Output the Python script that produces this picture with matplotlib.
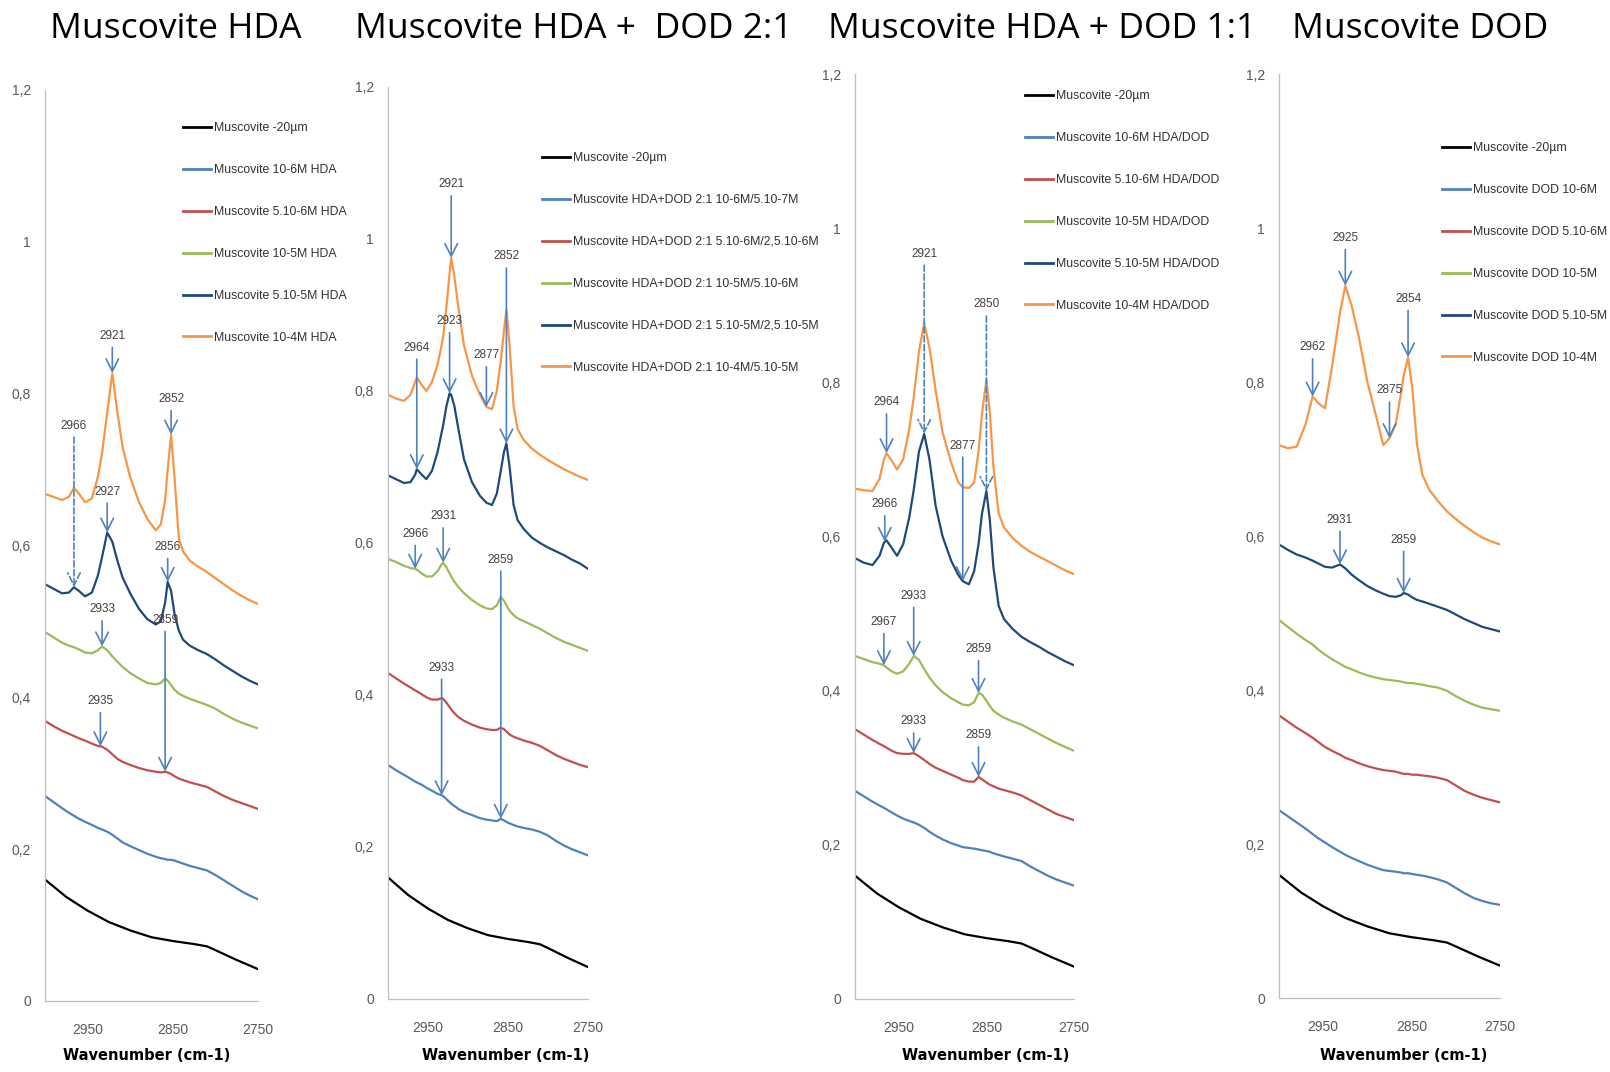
import numpy as np
import matplotlib
matplotlib.use("Agg")
import matplotlib.pyplot as plt
from matplotlib.lines import Line2D

plt.rcParams['font.family'] = ['Liberation Sans', 'DejaVu Sans']

# ---------------- data ----------------
# reference muscovite (same in every panel)
base_wn = [3000, 2975, 2950, 2925, 2900, 2875, 2850, 2825, 2810, 2800, 2775, 2750]
base_abs = [0.160, 0.137, 0.119, 0.104, 0.093, 0.084, 0.079, 0.075, 0.072, 0.067, 0.054, 0.042]

# panel 1 : HDA
wn1 = [3000, 2990, 2980, 2972, 2966, 2960, 2953, 2945, 2938, 2933, 2927, 2921, 2915, 2909, 2900,
       2890, 2880, 2870, 2864, 2859, 2856, 2852, 2848, 2843, 2838, 2830, 2820, 2810, 2800, 2790,
       2780, 2770, 2760, 2750]
hda_6 = [0.270, 0.262, 0.254, 0.248, 0.244, 0.240, 0.236, 0.232, 0.228, 0.226, 0.223, 0.219, 0.214,
         0.209, 0.204, 0.199, 0.194, 0.190, 0.188, 0.187, 0.186, 0.186, 0.185, 0.183, 0.181, 0.178,
         0.175, 0.172, 0.166, 0.159, 0.152, 0.145, 0.139, 0.134]
hda_56 = [0.369, 0.362, 0.356, 0.352, 0.349, 0.346, 0.343, 0.339, 0.336, 0.335, 0.331, 0.325, 0.319,
          0.315, 0.311, 0.307, 0.304, 0.302, 0.301, 0.302, 0.301, 0.299, 0.296, 0.293, 0.291, 0.288,
          0.285, 0.282, 0.276, 0.270, 0.265, 0.261, 0.257, 0.253]
hda_5 = [0.486, 0.479, 0.472, 0.468, 0.466, 0.463, 0.459, 0.458, 0.462, 0.467, 0.462, 0.454, 0.447,
         0.440, 0.432, 0.425, 0.419, 0.417, 0.419, 0.425, 0.422, 0.416, 0.410, 0.405, 0.402, 0.398,
         0.394, 0.390, 0.385, 0.378, 0.372, 0.367, 0.363, 0.359]
hda_55 = [0.549, 0.543, 0.537, 0.538, 0.545, 0.540, 0.533, 0.538, 0.560, 0.585, 0.617, 0.605, 0.580,
          0.558, 0.537, 0.517, 0.503, 0.496, 0.500, 0.525, 0.552, 0.540, 0.510, 0.488, 0.476, 0.468,
          0.462, 0.457, 0.450, 0.442, 0.435, 0.428, 0.422, 0.417]
hda_4 = [0.668, 0.664, 0.660, 0.664, 0.676, 0.668, 0.657, 0.662, 0.690, 0.722, 0.775, 0.827, 0.775,
         0.730, 0.690, 0.658, 0.635, 0.620, 0.628, 0.660, 0.700, 0.746, 0.690, 0.610, 0.592, 0.580,
         0.572, 0.565, 0.557, 0.549, 0.541, 0.534, 0.528, 0.523]

# panel 2 : HDA + DOD 2:1
wn2 = [3000, 2990, 2980, 2972, 2966, 2964, 2958, 2952, 2945, 2938, 2933, 2931, 2927, 2923, 2921,
       2917, 2912, 2905, 2895, 2885, 2877, 2870, 2864, 2859, 2855, 2852, 2848, 2843, 2838, 2830,
       2820, 2810, 2800, 2790, 2780, 2770, 2760, 2750]
mix21_6 = [0.308, 0.301, 0.295, 0.290, 0.286, 0.285, 0.282, 0.278, 0.274, 0.270, 0.268, 0.267, 0.263,
           0.259, 0.257, 0.254, 0.250, 0.246, 0.242, 0.238, 0.236, 0.235, 0.234, 0.237, 0.235, 0.233,
           0.231, 0.229, 0.227, 0.225, 0.223, 0.220, 0.215, 0.208, 0.202, 0.197, 0.193, 0.189]
mix21_56 = [0.429, 0.422, 0.415, 0.410, 0.406, 0.405, 0.401, 0.397, 0.394, 0.394, 0.396, 0.395, 0.390,
            0.384, 0.381, 0.376, 0.371, 0.366, 0.361, 0.357, 0.355, 0.354, 0.354, 0.357, 0.355, 0.352,
            0.348, 0.345, 0.343, 0.340, 0.337, 0.333, 0.327, 0.321, 0.316, 0.312, 0.308, 0.305]
mix21_5 = [0.579, 0.575, 0.570, 0.567, 0.566, 0.565, 0.560, 0.556, 0.556, 0.563, 0.572, 0.574, 0.568,
           0.560, 0.556, 0.549, 0.542, 0.534, 0.525, 0.518, 0.514, 0.513, 0.518, 0.529, 0.524, 0.518,
           0.511, 0.505, 0.501, 0.497, 0.492, 0.487, 0.481, 0.475, 0.470, 0.466, 0.462, 0.458]
mix21_55 = [0.689, 0.684, 0.679, 0.680, 0.690, 0.697, 0.690, 0.684, 0.695, 0.720, 0.745, 0.755, 0.780,
            0.797, 0.795, 0.780, 0.750, 0.710, 0.680, 0.662, 0.653, 0.650, 0.665, 0.695, 0.720, 0.731,
            0.700, 0.650, 0.630, 0.618, 0.607, 0.600, 0.594, 0.589, 0.584, 0.578, 0.573, 0.566]
mix21_4 = [0.795, 0.790, 0.787, 0.795, 0.812, 0.818, 0.808, 0.800, 0.812, 0.835, 0.860, 0.872, 0.910,
           0.955, 0.975, 0.950, 0.910, 0.860, 0.820, 0.795, 0.779, 0.776, 0.800, 0.840, 0.880, 0.907,
           0.860, 0.780, 0.750, 0.735, 0.724, 0.716, 0.709, 0.703, 0.697, 0.692, 0.687, 0.683]

# panel 3 : HDA + DOD 1:1
wn3 = [3000, 2990, 2980, 2972, 2967, 2964, 2958, 2952, 2945, 2938, 2933, 2927, 2921, 2915, 2908,
       2900, 2890, 2882, 2877, 2870, 2864, 2859, 2855, 2850, 2846, 2842, 2836, 2830, 2820, 2810,
       2800, 2790, 2780, 2770, 2760, 2750]
mix11_6 = [0.270, 0.263, 0.256, 0.251, 0.248, 0.246, 0.242, 0.238, 0.234, 0.231, 0.229, 0.226, 0.222,
           0.217, 0.212, 0.207, 0.202, 0.199, 0.197, 0.196, 0.195, 0.194, 0.193, 0.192, 0.191, 0.189,
           0.187, 0.185, 0.182, 0.179, 0.172, 0.166, 0.160, 0.155, 0.151, 0.147]
mix11_56 = [0.350, 0.343, 0.336, 0.331, 0.328, 0.326, 0.322, 0.319, 0.318, 0.318, 0.319, 0.315, 0.310,
            0.305, 0.300, 0.296, 0.291, 0.287, 0.284, 0.282, 0.282, 0.288, 0.285, 0.281, 0.278, 0.276,
            0.273, 0.271, 0.268, 0.264, 0.258, 0.252, 0.246, 0.240, 0.236, 0.232]
mix11_5 = [0.445, 0.441, 0.437, 0.435, 0.433, 0.430, 0.425, 0.422, 0.425, 0.435, 0.445, 0.440, 0.428,
           0.417, 0.407, 0.398, 0.390, 0.385, 0.382, 0.381, 0.385, 0.397, 0.395, 0.387, 0.380, 0.374,
           0.369, 0.365, 0.360, 0.356, 0.350, 0.344, 0.338, 0.332, 0.327, 0.322]
mix11_55 = [0.572, 0.566, 0.563, 0.575, 0.592, 0.595, 0.585, 0.575, 0.590, 0.625, 0.660, 0.710, 0.733,
            0.700, 0.640, 0.600, 0.568, 0.550, 0.542, 0.538, 0.555, 0.590, 0.630, 0.659, 0.620, 0.560,
            0.510, 0.493, 0.480, 0.470, 0.463, 0.457, 0.450, 0.444, 0.438, 0.433]
mix11_4 = [0.662, 0.660, 0.659, 0.675, 0.700, 0.708, 0.698, 0.687, 0.700, 0.740, 0.780, 0.840, 0.877,
           0.845, 0.790, 0.735, 0.695, 0.670, 0.664, 0.663, 0.670, 0.710, 0.760, 0.803, 0.760, 0.690,
           0.630, 0.612, 0.598, 0.588, 0.580, 0.574, 0.568, 0.562, 0.556, 0.551]

# panel 4 : DOD
wn4 = [3000, 2990, 2980, 2970, 2962, 2955, 2948, 2940, 2931, 2925, 2918, 2910, 2900, 2890, 2882,
       2875, 2868, 2862, 2859, 2854, 2849, 2844, 2838, 2830, 2820, 2810, 2800, 2790, 2780, 2770,
       2760, 2750]
dod_6 = [0.244, 0.236, 0.228, 0.220, 0.213, 0.207, 0.202, 0.196, 0.190, 0.186, 0.182, 0.178, 0.173,
         0.169, 0.166, 0.165, 0.164, 0.163, 0.162, 0.162, 0.161, 0.160, 0.159, 0.157, 0.154, 0.150,
         0.143, 0.136, 0.130, 0.126, 0.123, 0.121]
dod_56 = [0.367, 0.359, 0.351, 0.344, 0.338, 0.332, 0.326, 0.321, 0.316, 0.312, 0.309, 0.305, 0.301,
          0.298, 0.296, 0.295, 0.294, 0.292, 0.291, 0.291, 0.290, 0.290, 0.289, 0.288, 0.286, 0.283,
          0.276, 0.269, 0.264, 0.260, 0.257, 0.254]
dod_5 = [0.491, 0.482, 0.473, 0.465, 0.459, 0.452, 0.446, 0.440, 0.434, 0.430, 0.427, 0.423, 0.419,
         0.416, 0.414, 0.413, 0.412, 0.411, 0.410, 0.409, 0.409, 0.408, 0.407, 0.405, 0.403, 0.399,
         0.392, 0.386, 0.381, 0.377, 0.375, 0.373]
dod_55 = [0.589, 0.582, 0.576, 0.572, 0.568, 0.564, 0.560, 0.559, 0.563, 0.558, 0.550, 0.543, 0.535,
          0.529, 0.525, 0.522, 0.521, 0.523, 0.526, 0.524, 0.520, 0.517, 0.515, 0.512, 0.508, 0.504,
          0.498, 0.492, 0.487, 0.482, 0.479, 0.476]
dod_4 = [0.718, 0.714, 0.716, 0.745, 0.781, 0.772, 0.766, 0.820, 0.890, 0.925, 0.900, 0.860, 0.800,
         0.755, 0.718, 0.727, 0.745, 0.785, 0.808, 0.832, 0.790, 0.720, 0.680, 0.660, 0.645, 0.632,
         0.622, 0.613, 0.605, 0.598, 0.593, 0.589]

labels1 = ["Muscovite -20µm", "Muscovite 10-6M HDA", "Muscovite 5.10-6M HDA",
           "Muscovite 10-5M HDA", "Muscovite 5.10-5M HDA", "Muscovite 10-4M HDA"]
labels2 = ["Muscovite -20µm", "Muscovite HDA+DOD 2:1 10-6M/5.10-7M",
           "Muscovite HDA+DOD 2:1 5.10-6M/2,5.10-6M", "Muscovite HDA+DOD 2:1 10-5M/5.10-6M",
           "Muscovite HDA+DOD 2:1 5.10-5M/2,5.10-5M", "Muscovite HDA+DOD 2:1 10-4M/5.10-5M"]
labels3 = ["Muscovite -20µm", "Muscovite 10-6M HDA/DOD", "Muscovite 5.10-6M HDA/DOD",
           "Muscovite 10-5M HDA/DOD", "Muscovite 5.10-5M HDA/DOD", "Muscovite 10-4M HDA/DOD"]
labels4 = ["Muscovite -20µm", "Muscovite DOD 10-6M", "Muscovite DOD 5.10-6M",
           "Muscovite DOD 10-5M", "Muscovite DOD 5.10-5M", "Muscovite DOD 10-4M"]

titles = ["Muscovite HDA", "Muscovite HDA +  DOD 2:1", "Muscovite HDA + DOD 1:1", "Muscovite DOD"]

# peak marks: (text, wavenumber, label height, series index, dashed?)
peaks1 = [("2921", 2921, 0.876, 5, False), ("2852", 2852, 0.793, 5, False),
          ("2966", 2966, 0.758, 4, True), ("2927", 2927, 0.671, 4, False),
          ("2856", 2856, 0.598, 4, False), ("2933", 2933, 0.516, 3, False),
          ("2859", 2859, 0.502, 2, False), ("2935", 2935, 0.395, 2, False)]
peaks2 = [("2921", 2921, 1.072, 5, False), ("2852", 2852, 0.977, 4, False),
          ("2923", 2923, 0.892, 4, False), ("2964", 2964, 0.857, 4, False),
          ("2877", 2877, 0.847, 5, False), ("2966", 2966, 0.612, 3, False),
          ("2931", 2931, 0.635, 3, False), ("2859", 2859, 0.578, 1, False),
          ("2933", 2933, 0.436, 1, False)]
peaks3 = [("2921", 2921, 0.967, 4, True), ("2850", 2850, 0.901, 4, True),
          ("2964", 2964, 0.774, 5, False), ("2877", 2877, 0.718, 4, False),
          ("2966", 2966, 0.642, 4, False), ("2933", 2933, 0.523, 3, False),
          ("2967", 2967, 0.489, 3, False), ("2859", 2859, 0.454, 3, False),
          ("2933", 2933, 0.360, 2, False), ("2859", 2859, 0.342, 2, False)]
peaks4 = [("2925", 2925, 0.987, 5, False), ("2854", 2854, 0.908, 5, False),
          ("2962", 2962, 0.845, 5, False), ("2875", 2875, 0.789, 5, False),
          ("2931", 2931, 0.621, 4, False), ("2859", 2859, 0.595, 4, False)]

xticks = [2950, 2850, 2750]
yticks = [0, 0.2, 0.4, 0.6, 0.8, 1.0, 1.2]
ytick_labels = ["0", "0,2", "0,4", "0,6", "0,8", "1", "1,2"]

panels = [
    (wn1, [hda_6, hda_56, hda_5, hda_55, hda_4], labels1, peaks1),
    (wn2, [mix21_6, mix21_56, mix21_5, mix21_55, mix21_4], labels2, peaks2),
    (wn3, [mix11_6, mix11_56, mix11_5, mix11_55, mix11_4], labels3, peaks3),
    (wn4, [dod_6, dod_56, dod_5, dod_55, dod_4], labels4, peaks4),
]

# ---------------- layout (pixels of the 1610x1072 figure) ----------------
W, H = 1610, 1072
axes_px = [(45, 258, 90, 1001), (388, 588, 87, 999), (855, 1074, 74, 999), (1279, 1500, 74, 998)]
title_x = [176, 574, 1042, 1420]
xlabel_x = [147, 506, 986, 1404]
legend_px = [(183, 122), (542, 152), (1025, 90), (1442, 142)]

colors = ["black", "#4F81BD", "#C0504D", "#9BBB59", "#1F497D", "#F79646"]
arrow_col = "#4F81BD"
grey = "#595959"

fig = plt.figure(figsize=(W / 100, H / 100), dpi=100)

for p, (wn, series, labels, peaks) in enumerate(panels):
    L, R, T, B = axes_px[p]
    ax = fig.add_axes([L / W, 1 - B / H, (R - L) / W, (B - T) / H])

    ax.plot(base_wn, base_abs, color=colors[0], lw=1.6)
    for i, s in enumerate(series):
        ax.plot(wn, s, color=colors[i + 1], lw=1.6)

    all_series = [None] + series
    for text, x, ty, idx, dashed in peaks:
        tip = np.interp(x, wn[::-1], all_series[idx][::-1])
        ax.annotate(text, xy=(x, tip), xytext=(x, ty), ha="center", va="center",
                    fontsize=8.5, color="#404040",
                    arrowprops=dict(arrowstyle="->, head_length=0.5, head_width=0.25",
                                    color=arrow_col, lw=1.2, mutation_scale=18,
                                    shrinkA=2, shrinkB=0,
                                    linestyle="--" if dashed else "-"))

    ax.set_xlim(3000, 2750)
    ax.set_ylim(0, 1.2)
    ax.set_xticks(xticks)
    ax.set_xticklabels([str(t) for t in xticks])
    ax.set_yticks(yticks)
    ax.set_yticklabels(ytick_labels)
    ax.tick_params(axis="both", length=0, labelsize=10, colors=grey)
    ax.tick_params(axis="y", pad=10)
    ax.tick_params(axis="x", pad=16)
    for side in ["top", "right"]:
        ax.spines[side].set_visible(False)
    for side in ["left", "bottom"]:
        ax.spines[side].set_color("#BFBFBF")
        ax.spines[side].set_linewidth(0.9)

    handles = [Line2D([0], [0], color=c, lw=2) for c in colors]
    lx, ly = legend_px[p]
    ax.legend(handles, labels, loc="upper left", bbox_to_anchor=(lx / W, 1 - ly / H),
              bbox_transform=fig.transFigure, frameon=False, fontsize=8.8,
              handlelength=2.3, handletextpad=0.2, labelspacing=2.45,
              borderpad=0, borderaxespad=0, labelcolor="#303030")

    fig.text(title_x[p] / W, 1 - 29 / H, titles[p], ha="center", va="center",
             fontsize=25.5, family=["Open Sans", "DejaVu Sans"])
    fig.text(xlabel_x[p] / W, 1 - 1055 / H, "Wavenumber (cm-1)", ha="center", va="center",
             fontsize=10.5, fontweight="bold", family=["DejaVu Sans"])

fig.savefig("out.png", dpi=100)
